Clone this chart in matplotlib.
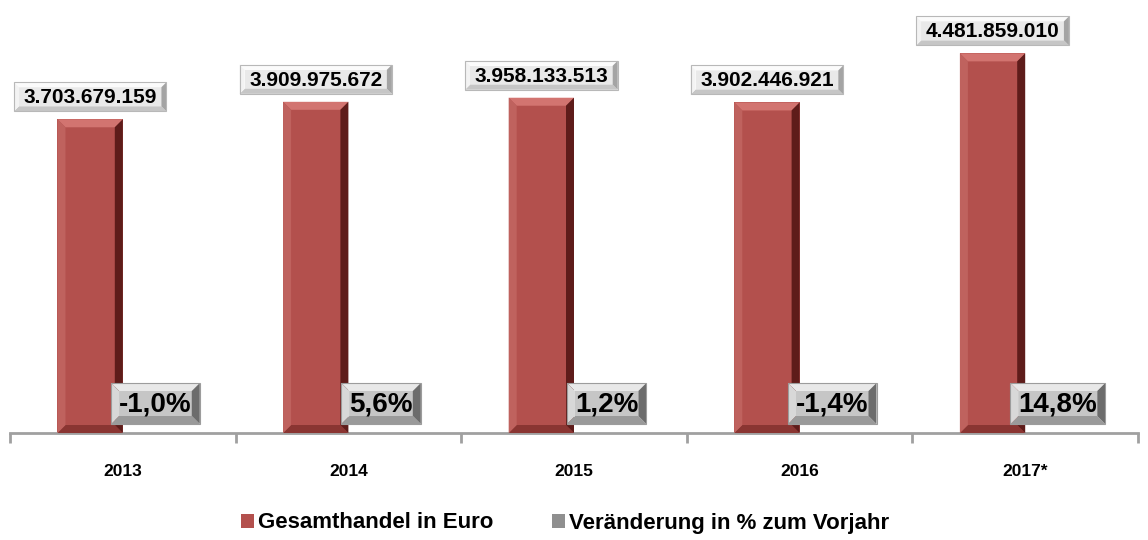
import matplotlib
matplotlib.use("Agg")
import matplotlib.pyplot as plt
from matplotlib.patches import Polygon
from matplotlib.transforms import IdentityTransform

years = ["2013", "2014", "2015", "2016", "2017*"]
gesamt = [3703679159, 3909975672, 3958133513, 3902446921, 4481859010]
veraenderung = [-1.0, 5.6, 1.2, -1.4, 14.8]
series_names = ["Gesamthandel in Euro", "Veränderung in % zum Vorjahr"]

RED = "#b3504d"
GRAY = "#8f8f8f"
AXIS = "#a0a0a0"

plt.rcParams.update({"font.family": ["Liberation Sans", "DejaVu Sans"],
                     "font.weight": "bold"})

W, H, DPI = 1148, 540, 100
fig = plt.figure(figsize=(W / DPI, H / DPI), dpi=DPI)
# axes pinned in pixels: x 10..1138, baseline at y=433 px from top
ax = fig.add_axes([10 / W, 107 / H, 1128 / W, 433 / H])
ax.set_xlim(-0.4956, 4.452)
ax.set_ylim(0, 5.112e9)

bw = 0.2895
xs = list(range(len(years)))
b1 = ax.bar([x - bw / 2 for x in xs], gesamt, width=bw, color=RED, zorder=2,
            label=series_names[0])
b2 = ax.bar([x + bw / 2 for x in xs], veraenderung, width=bw, color=GRAY, zorder=2,
            label=series_names[1])

for s in ["top", "right", "left"]:
    ax.spines[s].set_visible(False)
ax.spines["bottom"].set_color(AXIS)
ax.spines["bottom"].set_linewidth(2)
ax.set_yticks([])
ax.set_xticks(xs)
ax.set_xticklabels(years, fontweight="bold")
ax.set_xticks([x - 0.5 for x in xs] + [xs[-1] + 0.5], minor=True)
ax.tick_params(axis="x", which="major", length=0, pad=22, labelsize=12.5)
ax.tick_params(axis="x", which="minor", length=7, width=2, color=AXIS)


def bevel(x0, y0, x1, y1, b, face, top, left, right, bottom, edge=None, z=3):
    """pixel-space bevelled rectangle (y up)."""
    tr = IdentityTransform()
    pts = {
        "face": [(x0 + b, y0 + b), (x1 - b, y0 + b), (x1 - b, y1 - b), (x0 + b, y1 - b)],
        "top": [(x0, y1), (x1, y1), (x1 - b, y1 - b), (x0 + b, y1 - b)],
        "bottom": [(x0, y0), (x1, y0), (x1 - b, y0 + b), (x0 + b, y0 + b)],
        "left": [(x0, y0), (x0 + b, y0 + b), (x0 + b, y1 - b), (x0, y1)],
        "right": [(x1, y0), (x1 - b, y0 + b), (x1 - b, y1 - b), (x1, y1)],
    }
    cols = {"face": face, "top": top, "bottom": bottom, "left": left, "right": right}
    for k in ["face", "top", "bottom", "left", "right"]:
        fig.add_artist(Polygon(pts[k], closed=True, transform=tr, facecolor=cols[k],
                               edgecolor="none", zorder=z))
    if edge:
        fig.add_artist(Polygon([(x0, y0), (x1, y0), (x1, y1), (x0, y1)], closed=True,
                               transform=tr, facecolor="none", edgecolor=edge,
                               linewidth=0.8, zorder=z + 0.1))


fig.canvas.draw()
rend = fig.canvas.get_renderer()

# bevel on the red bars
for p in b1.patches:
    e = p.get_window_extent(rend)
    bevel(e.x0, e.y0, e.x1, e.y1, 8, RED, "#d27470", "#bf625e", "#5e1c1a", "#8a3532")

# value labels on top of the red bars
for x, v in zip(xs, gesamt):
    px, py = ax.transData.transform((x - bw / 2, v))
    cy = py + 22.5
    lab = f"{v:,}".replace(",", ".")
    t = fig.text(px, cy - 1, lab, transform=IdentityTransform(), ha="center",
                 va="center", fontsize=15, fontweight="bold", color="black", zorder=10)
    tw = t.get_window_extent(rend).width
    bevel(px - tw / 2 - 9.5, cy - 14.5, px + tw / 2 + 9.5, cy + 14.5, 5,
          "#e9e9e9", "#fbfbfb", "#f3f3f3", "#a4a4a4", "#c6c6c6", edge="#b8b8b8")

# percentage labels near the baseline
for x, pc in zip(xs, veraenderung):
    px, py = ax.transData.transform((x + bw / 2, 0))
    cy = py + 29.5
    lab = f"{pc:.1f}".replace(".", ",") + "%"
    t = fig.text(px, cy - 1, lab, transform=IdentityTransform(), ha="center",
                 va="center", fontsize=20, fontweight="bold", color="black", zorder=10)
    tw = t.get_window_extent(rend).width
    bevel(px - tw / 2 - 8, cy - 20.5, px + tw / 2 + 8, cy + 20.5, 8,
          "#c6c6c6", "#e8e8e8", "#d8d8d8", "#6c6c6c", "#9a9a9a", edge="#9c9c9c")

fig.legend(handles=[b1, b2], loc="center", bbox_to_anchor=(565 / W, 17 / H),
           ncol=2, frameon=False, prop={"size": 16, "weight": "bold"},
           handlelength=0.6, handleheight=0.6, handletextpad=0.2, columnspacing=2.6)

fig.savefig("out.png", dpi=DPI, facecolor="white")
